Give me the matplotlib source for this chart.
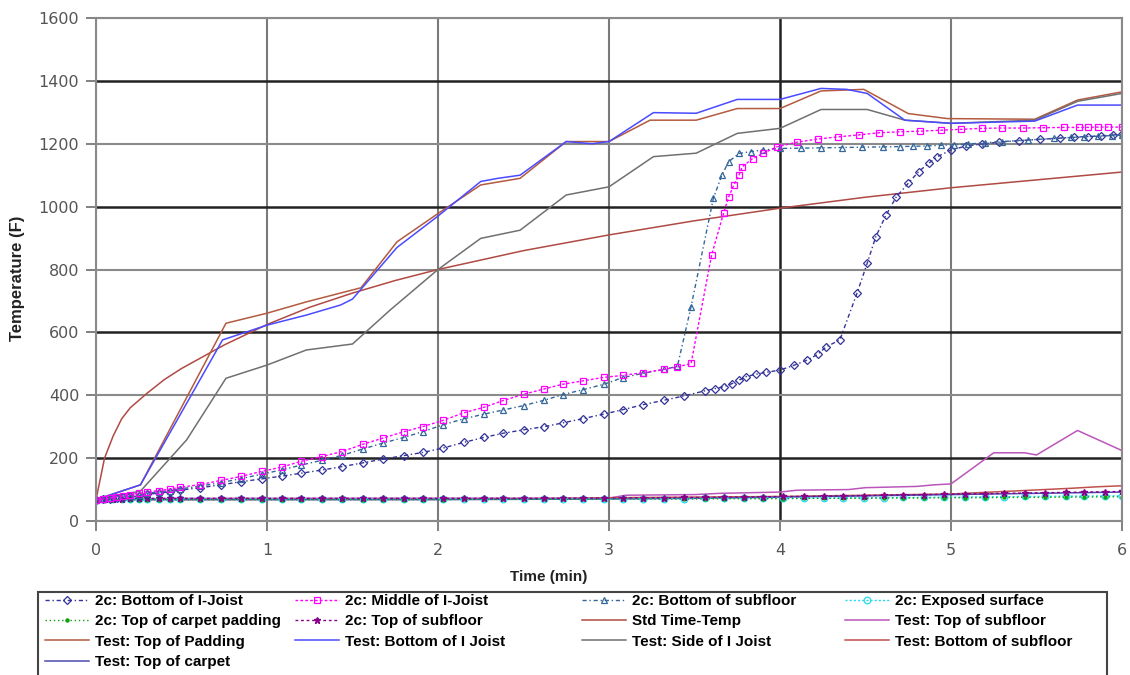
import matplotlib
matplotlib.use("Agg")
import matplotlib.pyplot as plt
from matplotlib.font_manager import FontProperties
from matplotlib.patches import Rectangle

# ---------------- data ----------------
x_ticks = [0, 1, 2, 3, 4, 5, 6]
y_ticks = [0, 200, 400, 600, 800, 1000, 1200, 1400, 1600]

# Test curves (hand-digitised polylines)
t_pad = [0, 0.26, 0.76, 1.0, 1.23, 1.5, 1.55, 1.76, 2.0, 2.25, 2.48, 2.75, 3.0, 3.24, 3.51, 3.75, 4.0, 4.24, 4.49, 4.75, 4.98, 5.49, 5.74, 6.0]
T_pad = [68, 115, 629, 661, 697, 735, 742, 888, 978, 1069, 1090, 1207, 1207, 1275, 1275, 1312, 1312, 1368, 1373, 1296, 1280, 1278, 1339, 1365]

t_bij = [0, 0.26, 0.74, 1.0, 1.23, 1.43, 1.5, 1.76, 2.0, 2.25, 2.35, 2.48, 2.75, 2.9, 3.0, 3.26, 3.51, 3.75, 4.0, 4.24, 4.39, 4.51, 4.73, 5.0, 5.49, 5.74, 6.0]
T_bij = [68, 115, 576, 623, 655, 687, 706, 870, 970, 1080, 1090, 1100, 1207, 1200, 1207, 1299, 1297, 1341, 1341, 1376, 1373, 1360, 1275, 1265, 1272, 1323, 1323]

t_side = [0, 0.26, 0.53, 0.76, 1.0, 1.23, 1.5, 1.72, 2.0, 2.25, 2.48, 2.75, 3.0, 3.26, 3.51, 3.75, 4.0, 4.24, 4.51, 4.73, 5.0, 5.49, 5.74, 6.0]
T_side = [68, 95, 258, 454, 496, 544, 563, 671, 800, 899, 925, 1037, 1063, 1159, 1170, 1233, 1249, 1309, 1309, 1275, 1265, 1275, 1335, 1360]

t_std = [0, 0.05, 0.1, 0.15, 0.2, 0.3, 0.4, 0.5, 0.6, 0.75, 1.0, 1.25, 1.5, 1.75, 2.0, 2.5, 3.0, 3.5, 4.0, 4.5, 5.0, 5.5, 6.0]
T_std = [68, 200, 270, 325, 360, 407, 450, 485, 515, 560, 625, 680, 725, 765, 800, 860, 910, 955, 995, 1030, 1060, 1085, 1110]

t_tsub = [0, 0.25, 0.5, 3.0, 3.1, 3.5, 3.65, 4.0, 4.1, 4.4, 4.5, 4.8, 4.9, 5.0, 5.25, 5.43, 5.5, 5.74, 6.0]
T_tsub = [68, 70, 72, 73, 82, 84, 88, 92, 98, 100, 106, 110, 115, 118, 217, 217, 210, 288, 224]

t_bsub = [0, 2.0, 2.8, 3.0, 3.5, 4.0, 4.5, 5.0, 5.39, 5.7, 5.86, 6.0]
T_bsub = [68, 69, 72, 74, 76, 78, 82, 86, 96, 104, 109, 112]

t_carpet = [0, 1, 2, 3, 3.5, 4, 4.5, 5, 5.5, 6]
T_carpet = [68, 68, 68, 70, 72, 76, 80, 84, 88, 92]

# 2c model curves
t_mid = [0.00, 0.04, 0.08, 0.12, 0.16, 0.20, 0.25, 0.30, 0.37, 0.43, 0.49, 0.61, 0.73, 0.85, 0.97, 1.09, 1.20, 1.32, 1.44, 1.56,
         1.68, 1.80, 1.91, 2.03, 2.15, 2.27, 2.38, 2.50, 2.62, 2.73, 2.85, 2.97, 3.08, 3.20, 3.32, 3.40, 3.48, 3.60, 3.67, 3.70,
         3.73, 3.76, 3.78, 3.84, 3.90, 3.98, 4.10, 4.22, 4.34, 4.46, 4.58, 4.70, 4.82, 4.94, 5.06, 5.18, 5.30, 5.42, 5.54, 5.66,
         5.75, 5.80, 5.86, 5.92, 6.00]
T_mid = [68, 70, 73, 77, 80, 84, 88, 92, 97, 101, 107, 116, 129, 142, 158, 172, 190, 205, 221, 244,
         264, 284, 300, 320, 344, 362, 383, 403, 420, 435, 446, 457, 463, 472, 482, 490, 501, 846, 979, 1031,
         1069, 1100, 1127, 1153, 1169, 1190, 1205, 1215, 1222, 1228, 1235, 1238, 1240, 1243, 1246, 1249, 1250, 1250, 1251, 1252,
         1252, 1252, 1253, 1253, 1253]

t_bsf = [0.00, 0.04, 0.08, 0.12, 0.16, 0.20, 0.25, 0.30, 0.37, 0.43, 0.49, 0.61, 0.73, 0.85, 0.97, 1.09, 1.20, 1.32, 1.44, 1.56,
         1.68, 1.80, 1.91, 2.03, 2.15, 2.27, 2.38, 2.50, 2.62, 2.73, 2.85, 2.97, 3.08, 3.20, 3.32, 3.40, 3.48, 3.61, 3.66, 3.70,
         3.76, 3.83, 3.90, 4.00, 4.12, 4.24, 4.36, 4.48, 4.60, 4.70, 4.78, 4.86, 4.94, 5.02, 5.10, 5.20, 5.30, 5.45, 5.60, 5.70,
         5.78, 5.86, 5.94, 6.00]
T_bsf = [68, 70, 72, 75, 78, 81, 84, 88, 93, 97, 102, 111, 122, 135, 149, 163, 178, 193, 209, 229,
         248, 266, 284, 306, 325, 340, 353, 367, 384, 402, 418, 435, 456, 470, 482, 492, 682, 1026, 1100, 1143,
         1169, 1175, 1180, 1185, 1186, 1187, 1188, 1189, 1190, 1191, 1192, 1193, 1195, 1197, 1199, 1203, 1207, 1212, 1217, 1220,
         1222, 1224, 1226, 1227]

t_bij2c = [0.00, 0.04, 0.08, 0.12, 0.16, 0.20, 0.25, 0.30, 0.37, 0.43, 0.49, 0.61, 0.73, 0.85, 0.97, 1.09, 1.20, 1.32, 1.44, 1.56,
           1.68, 1.80, 1.91, 2.03, 2.15, 2.27, 2.38, 2.50, 2.62, 2.73, 2.85, 2.97, 3.08, 3.20, 3.32, 3.44, 3.56, 3.62, 3.67, 3.72,
           3.76, 3.80, 3.86, 3.92, 4.00, 4.08, 4.16, 4.22, 4.27, 4.35, 4.45, 4.51, 4.56, 4.62, 4.68, 4.75, 4.81, 4.87, 4.92, 5.00,
           5.09, 5.18, 5.28, 5.40, 5.52, 5.64, 5.72, 5.80, 5.88, 5.95, 6.00]
T_bij2c = [68, 69, 71, 73, 75, 78, 81, 85, 89, 93, 98, 106, 115, 125, 134, 143, 152, 162, 173, 185,
           197, 208, 218, 232, 250, 266, 279, 290, 300, 312, 326, 340, 354, 370, 384, 398, 414, 421, 427, 437,
           448, 459, 467, 473, 480, 495, 512, 530, 554, 576, 724, 820, 904, 973, 1031, 1074, 1111, 1138, 1159, 1180,
           1193, 1199, 1205, 1210, 1214, 1218, 1221, 1223, 1225, 1228, 1230]

t_base = [0, 0.05, 0.1, 0.15, 0.2, 0.25, 0.3, 0.37, 0.43, 0.49, 0.61, 0.73, 0.85, 0.97, 1.09, 1.2, 1.32, 1.44, 1.56, 1.68,
          1.8, 1.91, 2.03, 2.15, 2.27, 2.38, 2.5, 2.62, 2.73, 2.85, 2.97, 3.08, 3.2, 3.32, 3.44, 3.56, 3.67, 3.79, 3.9, 4.02,
          4.14, 4.26, 4.37, 4.49, 4.61, 4.72, 4.84, 4.96, 5.08, 5.2, 5.31, 5.43, 5.55, 5.67, 5.78, 5.9, 6.0]
T_exposed = [68, 69, 69, 70, 70, 70, 70, 70, 70, 70, 70, 70, 70, 70, 70, 70, 70, 70, 70, 70,
             70, 70, 70, 70, 70, 70, 70, 70, 70, 71, 71, 71, 71, 71, 71, 72, 72, 72, 72, 73,
             73, 73, 74, 74, 74, 75, 75, 76, 76, 77, 77, 78, 78, 79, 79, 80, 80]
T_cpad2c = [68, 68, 68, 68, 68, 68, 68, 68, 68, 68, 68, 68, 68, 68, 68, 68, 68, 68, 68, 68,
            68, 68, 68, 69, 69, 69, 69, 69, 69, 69, 70, 70, 70, 70, 70, 70, 71, 71, 71, 71,
            72, 72, 72, 72, 73, 73, 73, 74, 74, 74, 75, 75, 75, 76, 76, 77, 77]
T_tsub2c = [68, 69, 70, 71, 72, 72, 72, 72, 72, 72, 72, 72, 72, 72, 72, 72, 72, 72, 72, 72,
            72, 72, 72, 72, 72, 72, 72, 72, 72, 73, 73, 73, 74, 74, 75, 75, 76, 76, 77, 78,
            78, 79, 80, 81, 82, 83, 84, 85, 86, 87, 88, 89, 90, 91, 92, 93, 94]

# ---------------- figure ----------------
W, H = 1130, 675
fig = plt.figure(figsize=(W / 100, H / 100), dpi=100)
ax = fig.add_axes([96 / W, 1 - 521 / H, (1122 - 96) / W, (521 - 18) / H])

lines = {}
def plot(label, t, T, **kw):
    (ln,) = ax.plot(t, T, label=label, **kw)
    lines[label] = ln

# test lines
plot("Std Time-Temp", t_std, T_std, color="#b04a44", lw=1.1)
plot("Test: Top of Padding", t_pad, T_pad, color="#b35a40", lw=1.1)
plot("Test: Side of I Joist", t_side, T_side, color="#707070", lw=1.1)
plot("Test: Bottom of I Joist", t_bij, T_bij, color="#4a4aff", lw=1.1)
plot("Test: Top of subfloor", t_tsub, T_tsub, color="#bb55bb", lw=1.1)
plot("Test: Bottom of subfloor", t_bsub, T_bsub, color="#c0504d", lw=1.1)
plot("Test: Top of carpet", t_carpet, T_carpet, color="#4b4bb0", lw=1.1)

# 2c model lines
mk = dict(mfc="none", mew=0.9, ms=4.8, lw=1.0)
plot("2c: Exposed surface", t_base, T_exposed, color="#22ddee", ls=(0, (1.5, 1.5)), marker="o", **mk)
plot("2c: Top of carpet padding", t_base, T_cpad2c, color="#10a010", ls=(0, (1, 2)), marker="o", ms=2.2, lw=1.0)
plot("2c: Top of subfloor", t_base, T_tsub2c, color="#880088", ls=(0, (2, 2)), marker="*", ms=4.8, lw=1.0)
plot("2c: Bottom of I-Joist", t_bij2c, T_bij2c, color="#333399", ls=(0, (3, 2, 1, 2)), marker="D", **{**mk, "ms": 4.2})
plot("2c: Bottom of subfloor", t_bsf, T_bsf, color="#336699", ls=(0, (3, 2, 1, 2)), marker="^", **mk)
plot("2c: Middle of I-Joist", t_mid, T_mid, color="#ff00ff", ls=(0, (2, 1.5)), marker="s", **mk)

ax.set_xlim(0, 6)
ax.set_ylim(0, 1600)
ax.set_xticks(x_ticks)
ax.set_yticks(y_ticks)
ax.set_xticklabels([str(v) for v in x_ticks])
ax.set_yticklabels([str(v) for v in y_ticks])

ax.grid(True, zorder=0)
ax.set_axisbelow(True)
for v, gl in zip(y_ticks, ax.get_ygridlines()):
    if v in (200, 600, 1000, 1400):
        gl.set_color("#222222"); gl.set_linewidth(1.8)
    else:
        gl.set_color("#8a8a8a"); gl.set_linewidth(1.5)
for v, gl in zip(x_ticks, ax.get_xgridlines()):
    if v == 4:
        gl.set_color("#222222"); gl.set_linewidth(1.8)
    else:
        gl.set_color("#7a7a7a"); gl.set_linewidth(1.5)

for s in ax.spines.values():
    s.set_color("#8a8a8a"); s.set_linewidth(1.5)

ax.tick_params(axis="both", direction="out", length=7, width=1.3, color="#777777",
               labelcolor="#555555", labelsize=11.5)
ax.tick_params(axis="x", pad=9)
ax.tick_params(axis="y", pad=5)

axis_font = FontProperties(family="Liberation Sans", weight="bold", size=11)
ylab_font = FontProperties(family="Liberation Sans", weight="bold", size=12)
fig.text(549 / W, 1 - 577 / H, "Time (min)", ha="center", va="center", fontproperties=axis_font, color="#222222")
fig.text(18 / W, 1 - 278 / H, "Temperature (F)", ha="center", va="center", rotation=90,
         fontproperties=ylab_font, color="#222222")

# legend: frame + four columns
legend_font = FontProperties(family="Liberation Sans", weight="bold", size=11)
fig.add_artist(Rectangle((38 / W, -0.05), (1107 - 38) / W, 0.05 + (1 - 592 / H),
                         transform=fig.transFigure, fill=False, edgecolor="#444444", lw=1.5))
cols = [
    ["2c: Bottom of I-Joist", "2c: Top of carpet padding", "Test: Top of Padding", "Test: Top of carpet"],
    ["2c: Middle of I-Joist", "2c: Top of subfloor", "Test: Bottom of I Joist"],
    ["2c: Bottom of subfloor", "Std Time-Temp", "Test: Side of I Joist"],
    ["2c: Exposed surface", "Test: Top of subfloor", "Test: Bottom of subfloor"],
]
col_x = [45, 295, 582, 845]
for labels, cx in zip(cols, col_x):
    fig.legend([lines[l] for l in labels], labels, loc="upper left",
               bbox_to_anchor=(cx / W, 1 - 594 / H), bbox_transform=fig.transFigure,
               frameon=False, borderpad=0, borderaxespad=0, handlelength=2.9,
               handletextpad=0.4, labelspacing=0.42, prop=legend_font, numpoints=1)

fig.savefig("out.png", dpi=100)
